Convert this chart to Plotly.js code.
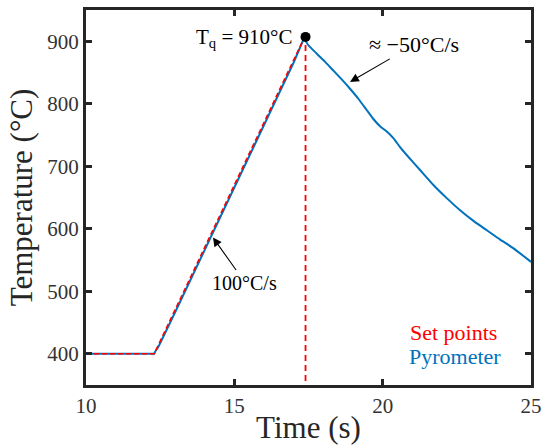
<!DOCTYPE html>
<html>
<head>
<meta charset="utf-8">
<script src="https://cdn.plot.ly/plotly-3.0.1.min.js"></script>
<style>html,body{margin:0;padding:0;background:#fff;}#chart{width:549px;height:445px;}</style>
</head>
<body>
<div id="chart"></div>
<script>
// Set points (heating program)
const setTime = [10, 12.3, 17.4];
const setTemp = [400, 400, 910];

// Quench marker line
const quenchTime = [17.4, 17.4];
const quenchTemp = [910, 350];

// Pyrometer measurement: hold + heating ramp
const pyroRiseTime = [10, 12.3, 12.35, 12.45, 13, 14, 15, 16, 17, 17.35];
const pyroRiseTemp = [400, 400, 405, 412, 466, 566, 666, 766, 866, 905];

// Pyrometer measurement: cooling
const pyroCoolTime = [17.35, 17.49, 17.78, 18.06, 18.34, 18.62, 18.9, 19.18, 19.46, 19.68, 19.91, 20.13, 20.36, 20.58, 20.81, 21.26, 21.71, 22.16, 22.6, 23.05, 23.5, 23.95, 24.4, 25];
const pyroCoolTemp = [905, 894, 880, 867, 853, 839, 824, 808, 790, 776, 764, 756, 745, 731, 718, 694, 670, 649, 630, 613, 598, 583, 569, 547];

// Peak point
const peakTime = [17.4];
const peakTemp = [907];

const xTicks = [10, 15, 20, 25];
const yTicks = [400, 500, 600, 700, 800, 900];

const blue = '#0072BD';
const red = '#FF0000';
const serif = 'Liberation Serif, DejaVu Serif, serif';
const axisCol = '#262626';

const traces = [
  {x: pyroRiseTime, y: pyroRiseTemp, mode: 'lines', line: {color: blue, width: 2}, name: 'Pyrometer', hoverinfo: 'skip'},
  {x: pyroCoolTime, y: pyroCoolTemp, mode: 'lines', line: {color: blue, width: 2, shape: 'spline', smoothing: 0.5}, showlegend: false, hoverinfo: 'skip'},
  {x: setTime, y: setTemp, mode: 'lines', line: {color: red, width: 1.6, dash: '5px,3px'}, name: 'Set points', hoverinfo: 'skip'},
  {x: quenchTime, y: quenchTemp, mode: 'lines', line: {color: red, width: 1.8, dash: '6px,4px'}, showlegend: false, hoverinfo: 'skip'},
  {x: peakTime, y: peakTemp, mode: 'markers', marker: {color: '#000', size: 10}, showlegend: false, hoverinfo: 'skip'}
];

const axisCommon = {
  showgrid: false, zeroline: false,
  showline: true, linecolor: axisCol, linewidth: 3,
  mirror: 'ticks', ticks: 'inside', ticklen: 6, tickwidth: 3, tickcolor: axisCol,
  tickfont: {family: serif, size: 21, color: '#333'}
};

const layout = {
  width: 549, height: 445,
  margin: {l: 86, r: 18, t: 10, b: 60},
  paper_bgcolor: '#fff', plot_bgcolor: '#fff',
  showlegend: false,
  xaxis: Object.assign({}, axisCommon, {
    range: [10, 25], tickvals: xTicks, ticktext: xTicks.map(String),
    title: {text: 'Time (s)', font: {family: serif, size: 31, color: '#262626'}, standoff: 4}
  }),
  yaxis: Object.assign({}, axisCommon, {
    range: [350, 950], tickvals: yTicks, ticktext: yTicks.map(String),
    title: {text: 'Temperature (°C)', font: {family: serif, size: 31, color: '#262626'}, standoff: 6}
  }),
  annotations: [
    {x: peakTime[0], y: peakTemp[0], xref: 'x', yref: 'y', text: 'T<sub>q</sub> = 910°C', showarrow: false,
     xanchor: 'right', yanchor: 'middle', xshift: -12, yshift: -1, font: {family: serif, size: 21, color: '#000'}},
    {x: 18.9, y: 835, xref: 'x', yref: 'y', ax: 64, ay: -37, text: '≈ −50°C/s', showarrow: true,
     arrowhead: 2, arrowsize: 1.6, arrowwidth: 1.1, arrowcolor: '#000', standoff: 0,
     font: {family: serif, size: 22, color: '#000'}},
    {x: 14.28, y: 586, xref: 'x', yref: 'y', ax: 32, ay: 45, text: '100°C/s', showarrow: true,
     arrowhead: 2, arrowsize: 1.6, arrowwidth: 1.1, arrowcolor: '#000', standoff: 0,
     font: {family: serif, size: 20, color: '#000'}},
    {x: 0.928, y: 0.141, xref: 'paper', yref: 'paper', text: 'Set points', showarrow: false, xanchor: 'right', yanchor: 'middle',
     font: {family: serif, size: 22, color: red}},
    {x: 0.937, y: 0.075, xref: 'paper', yref: 'paper', text: 'Pyrometer', showarrow: false, xanchor: 'right', yanchor: 'middle',
     font: {family: serif, size: 22, color: blue}}
  ]
};

Plotly.newPlot('chart', traces, layout, {staticPlot: true, displayModeBar: false});
</script>
</body>
</html>
